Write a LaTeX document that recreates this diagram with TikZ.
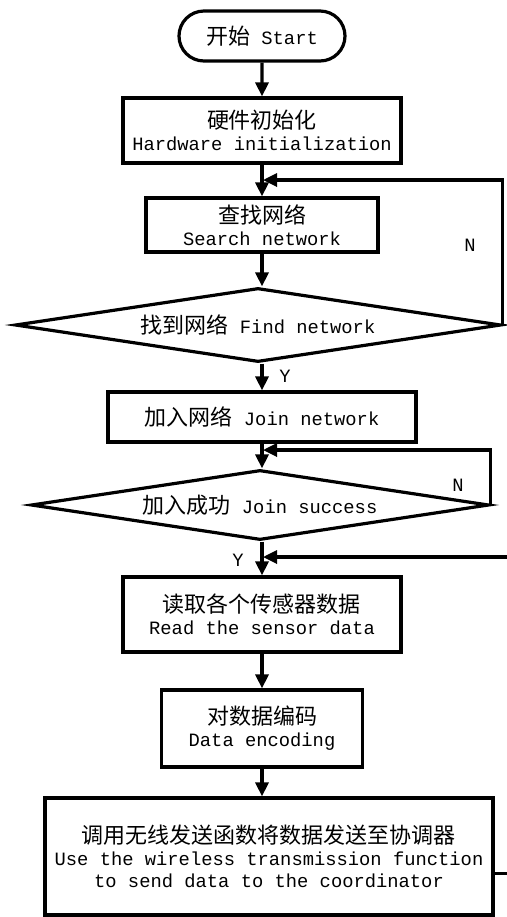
\documentclass[tikz,border=0pt]{standalone}
\usepackage{fontspec}
\setmonofont{Liberation Mono}
\newfontfamily\cjk{Noto Sans CJK SC}
\usetikzlibrary{shapes.geometric,shapes.misc,arrows.meta}
\newcommand{\zh}[1]{{\cjk\fontsize{11}{11}\selectfont #1}}

\begin{document}
\begin{tikzpicture}[x=0.5pt,y=-0.5pt,font=\ttfamily\fontsize{9.4}{11}\selectfont,
    line width=1.6pt,
    proc/.style={draw, align=center, inner sep=0pt},
    term/.style={draw, rounded rectangle, inner sep=0pt, minimum width=83pt, minimum height=25pt},
    dec/.style={draw, diamond, aspect=6.5, inner sep=0pt},
    arr/.style={-{Triangle[length=7pt,width=6.5pt]}},
    lbl/.style={inner sep=0pt}]

    \useasboundingbox (0,0) rectangle (507,917);

    \node[term] (start) at (262,36) {\zh{开始} Start};
    \node[proc, minimum width=139pt, minimum height=32.5pt] (hw) at (262,130.5) {\zh{硬件初始化}\\Hardware initialization};
    \node[proc, minimum width=116pt, minimum height=27pt] (search) at (262,225) {\zh{查找网络}\\Search network};
    \node[dec, minimum width=243pt, minimum height=37pt] (find) at (258,325) {\zh{找到网络} Find network};
    \node[proc, minimum width=154pt, minimum height=25pt] (join) at (262,417) {\zh{加入网络} Join network};
    \node[dec, minimum width=229pt, minimum height=35pt] (succ) at (260,505) {\zh{加入成功} Join success};
    \node[proc, minimum width=139pt, minimum height=37.5pt] (read) at (262,614.5) {\zh{读取各个传感器数据}\\Read the sensor data};
    \node[proc, minimum width=100.5pt, minimum height=38.5pt] (enc) at (262,728.5) {\zh{对数据编码}\\Data encoding};
    \node[proc, minimum width=224pt, minimum height=58.5pt] (send) at (269,856.5) {\zh{调用无线发送函数将数据发送至协调器}\\Use the wireless transmission function\\to send data to the coordinator};

    \coordinate (j1) at (263,180);
    \coordinate (j2) at (263,450);
    \coordinate (j3) at (263,557);

    \draw[arr] (start) -- (hw);
    \draw[arr] (hw) -- (search);
    \draw[arr] (search) -- (search |- find.north);
    \draw[arr] (search |- find.south) -- (join);
    \draw[arr] (join) -- (join |- succ.north);
    \draw[arr] (join |- succ.south) -- (read);
    \draw[arr] (read) -- (enc);
    \draw[arr] (enc) -- (enc |- send.north);

    % loops back
    \draw[arr] (find.east) |- (j1);
    \draw[arr] (succ.east) |- (j2);
    \draw[arr] (send.east) ++(0,17) -| (515,557) -- (j3);

    \node[lbl] (n1) at (470,245) {N};
    \node[lbl] (n2) at (458,485) {N};
    \node[lbl] (y1) at (285,376) {Y};
    \node[lbl] (y2) at (238,560) {Y};
\end{tikzpicture}
\end{document}
